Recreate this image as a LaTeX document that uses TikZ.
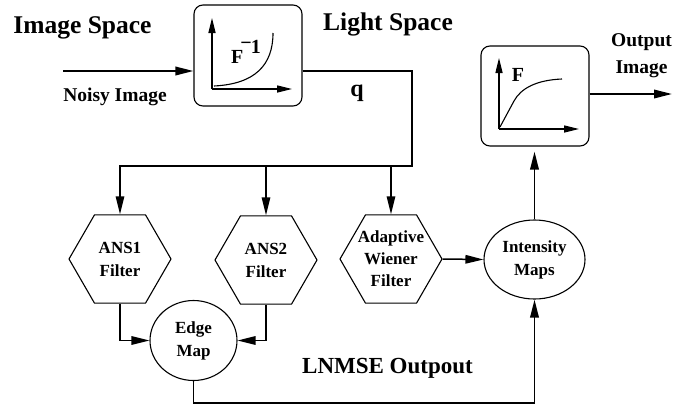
\documentclass[tikz,border=0pt]{standalone}
\usepackage{fontspec}
\setmainfont{Liberation Serif}
\usetikzlibrary{shapes.geometric,arrows.meta}
\begin{document}
\begin{tikzpicture}[x=1pt,y=-1pt,
  wire/.style={line width=1.9pt},
  flow/.style={wire,-{Triangle[length=18pt,width=8.5pt]}},
  axis/.style={line width=1.3pt,-{Triangle[length=15pt,width=7pt]}},
  curve/.style={line width=1.1pt},
  fbox/.style={draw,rectangle,rounded corners=9pt,line width=1.1pt,inner sep=0pt},
  hexa/.style={draw,regular polygon,regular polygon sides=6,minimum size=102pt,inner sep=0pt,line width=1.1pt},
  ell/.style={draw,ellipse,inner sep=0pt,line width=1.1pt,align=center,
    font=\bfseries\fontsize{17}{23}\selectfont},
  shapetext/.style={align=center,font=\bfseries\fontsize{17}{23}\selectfont},
  title/.style={anchor=base,font=\bfseries\fontsize{25.5}{30}\selectfont},
  caption/.style={font=\bfseries\fontsize{19.5}{27}\selectfont},
]
\useasboundingbox (0,0) rectangle (675,408);

% headings and free labels
\node[title] (imgspace) at (82.5,33) {Image Space};
\node[title] (lightspace) at (388,30) {Light Space};
\node[caption,anchor=base] (noisy) at (115,101) {Noisy Image};
\node[anchor=base,font=\bfseries\fontsize{24}{28}\selectfont] (q) at (357,96) {q};
\node[caption,align=center] (outimg) at (641.5,56) {Output\\Image};
\node[title,font=\bfseries\fontsize{23}{28}\selectfont] (lnmse) at (387.5,373) {LNMSE Outpout};

% inverse response box
\node[fbox,minimum width=108pt,minimum height=101pt] (finvbox) at (248,55.5) {};
\draw[axis] (212,89) -- (212,18);
\draw[axis] (212,89) -- (292,89);
\draw[curve] (214,86) .. controls (255,84) and (273,65) .. (273,33);
\node[anchor=base west,inner sep=0pt,font=\bfseries\fontsize{20}{24}\selectfont] (finv) at (231,63)
  {F\kern-3pt\raisebox{14pt}{−}\kern-1pt\raisebox{9.5pt}{1}};

% forward response box
\node[fbox,minimum width=108pt,minimum height=100pt] (fbox) at (535,96) {};
\draw[axis] (499,129) -- (499,58);
\draw[axis] (499,129) -- (579,129);
\draw[curve] (500,127) -- (514,101) .. controls (521,88) and (537,80) .. (562,79);
\node[anchor=base,inner sep=0pt,font=\bfseries\fontsize{20}{24}\selectfont] (fsym) at (518,81) {F};

% filters
\node[hexa,label={[shapetext]center:{ANS1\\Filter}}] (ans1) at (120,259) {};
\node[hexa,label={[shapetext]center:{ANS2\\Filter}}] (ans2) at (266,260) {};
\node[hexa,label={[shapetext,font=\bfseries\fontsize{17}{22}\selectfont]center:{Adaptive\\Wiener\\Filter}}] (awf) at (391,259) {};

% maps
\node[ell,minimum width=87pt,minimum height=80pt] (edge) at (193.5,340.5) {Edge\\Map};
\node[ell,minimum width=101pt,minimum height=79pt] (int) at (534.5,259.5) {Intensity\\Maps};

% connectors
\coordinate (src) at (63,71);
\coordinate (dst) at (672,94);
\coordinate (qcorner) at (412,71);
\coordinate (split) at (412,166);
\coordinate (floor) at (0,403);

\draw[flow] (src) -- (src -| finvbox.west);
\draw[flow,line width=1.6pt] (qcorner -| finvbox.east) -- (qcorner) -- (split) -| (ans1.north);
\draw[flow,line width=1.6pt] (split -| ans2.north) -- (ans2.north);
\draw[flow,line width=1.6pt] (split -| awf.north) -- (awf.north);
\draw[flow,line width=1.5pt] (ans1.south) |- (edge.west);
\draw[flow,line width=1.5pt] (ans2.south) |- (edge.east);
\draw[flow,line width=1.5pt] (awf.east) -- (int.west);
\draw[flow] (edge.south) -- (edge.south |- floor) -| (int.south);
\draw[flow,shorten >=5pt] (int.north) -- (int.north |- fbox.south);
\draw[flow] (dst -| fbox.east) -- (dst);
\end{tikzpicture}
\end{document}
